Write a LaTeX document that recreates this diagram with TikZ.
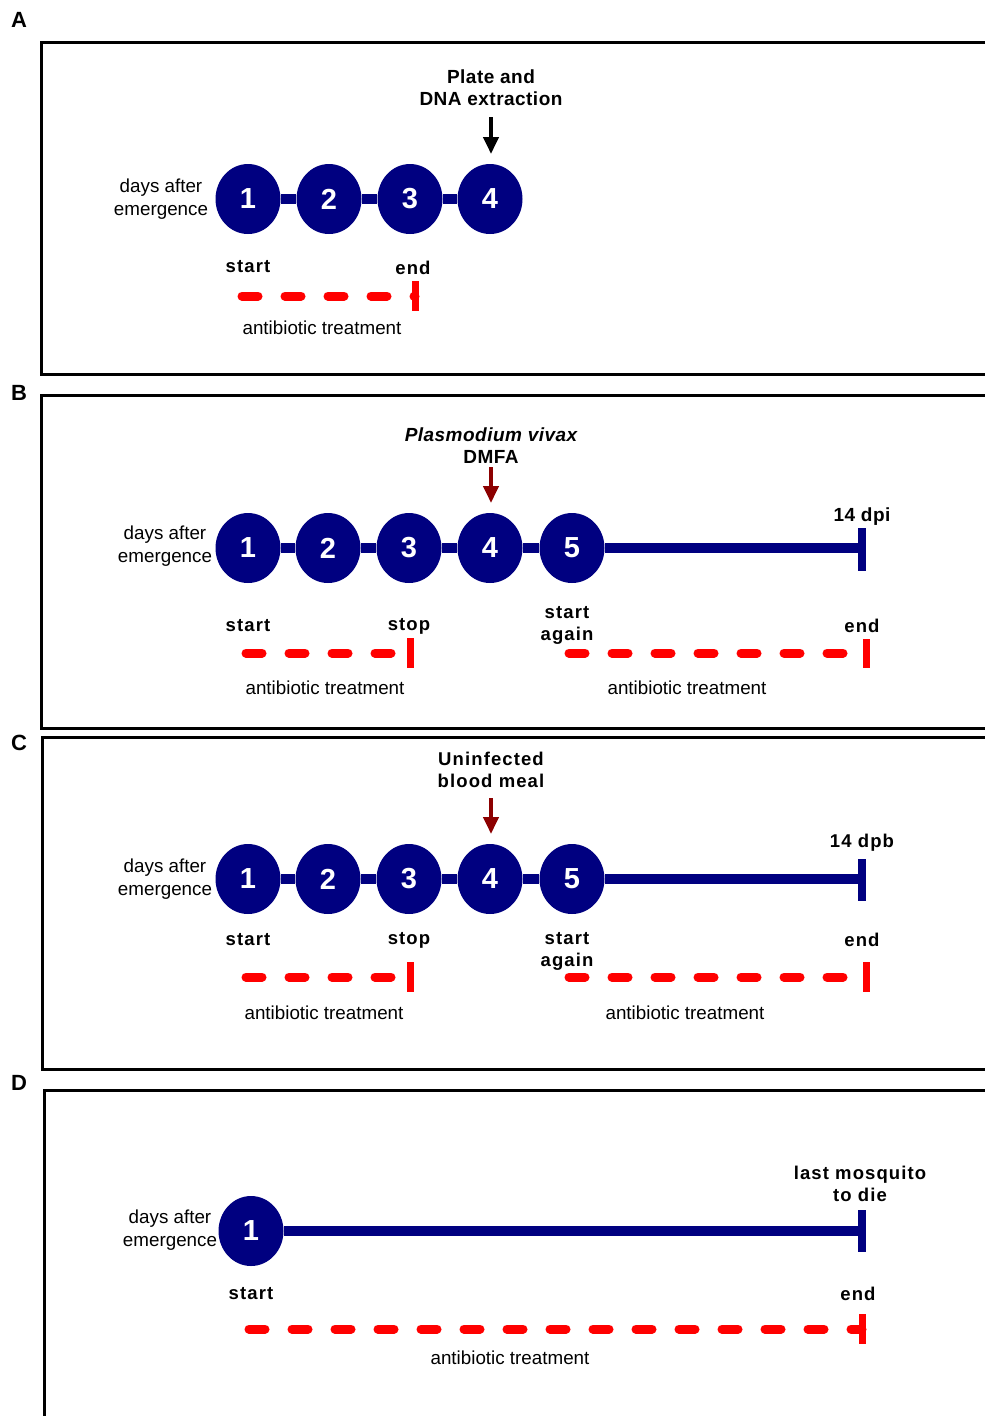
\documentclass[tikz,border=0pt]{standalone}
\usepackage{fontspec}
\setmainfont{Liberation Sans}
\usetikzlibrary{arrows.meta,shapes.geometric}
\definecolor{navy}{RGB}{0,0,128}
\definecolor{dred}{RGB}{140,0,0}
\definecolor{tred}{RGB}{255,0,0}
\tikzset{
 day/.style={ellipse, fill=navy, minimum width=65pt, minimum height=70pt, inner sep=0pt, text=white, font=\fontsize{29}{30}\selectfont\bfseries},
 link/.style={navy, line width=10pt},
 endbar/.style={navy, line width=8pt},
 treat/.style={tred, line width=9pt, dash pattern=on 16pt off 27pt, line cap=round},
 tbar/.style={tred, line width=7pt},
 panel/.style={line width=3pt},
 lbl/.style={font=\fontsize{18.8}{23}\selectfont, align=center, inner sep=0pt},
 blbl/.style={font=\fontsize{18.5}{22}\selectfont\bfseries\addfontfeatures{LetterSpace=6}, align=center, inner sep=0pt},
 plbl/.style={font=\fontsize{19}{22}\selectfont\bfseries\addfontfeatures{LetterSpace=2.5}, align=center, inner sep=0pt},
 plab/.style={font=\fontsize{22}{24}\selectfont\bfseries, inner sep=0pt},
 karrow/.style={line width=4pt, -{Triangle[width=15pt,length=17pt]}},
 rarrow/.style={dred, line width=4pt, -{Triangle[width=15pt,length=17pt]}},
}
\begin{document}
\begin{tikzpicture}[x=1pt,y=-1pt]
\useasboundingbox (0,0) rectangle (985,1416);
\fill[white] (0,0) rectangle (985,1416);

% ---------------- Panel A ----------------
\node[plab] (labA) at (19,20) {A};
\draw[panel] (990,42) -- (41,42) -- (41,374) -- (990,374);
\node[lbl] (adays) at (161,199) {days after\\emergence};
\node[day] (a1) at (248,199) {1};
\node[day] (a2) at (329,199) {2};
\node[day] (a3) at (410,199) {3};
\node[day] (a4) at (490,199) {4};
\draw[link] (a1) -- (a2);
\draw[link] (a2) -- (a3);
\draw[link] (a3) -- (a4);
\node[plbl] (aplate) at (491,88) {Plate and\\DNA extraction};
\coordinate (aArS) at (491,117);
\coordinate (aArE) at (491,154);
\draw[karrow] (aArS) -- (aArE);
\node[blbl] (astart) at (248,267) {start};
\node[blbl] (aend) at (413,268) {end};
\coordinate (aTs) at (242,296);
\coordinate (aTe) at (415,296);
\draw[treat] (aTs) -- (aTe);
\coordinate (aBt) at (415,281);
\coordinate (aBb) at (415,311);
\draw[tbar] (aBt) -- (aBb);
\node[lbl] (atreat) at (322,328) {antibiotic treatment};

% ---------------- Panel B ----------------
\node[plab] (labB) at (19,393) {B};
\draw[panel] (990,395) -- (41,395) -- (41,728) -- (990,728);
\node[lbl] (bdays) at (165,546) {days after\\emergence};
\node[day] (b1) at (248,548) {1};
\node[day] (b2) at (328,548) {2};
\node[day] (b3) at (409,548) {3};
\node[day] (b4) at (490,548) {4};
\node[day] (b5) at (572,548) {5};
\coordinate (bEnd) at (862,548);
\draw[link] (b1) -- (b2);
\draw[link] (b2) -- (b3);
\draw[link] (b3) -- (b4);
\draw[link] (b4) -- (b5);
\draw[link] (b5) -- (bEnd);
\coordinate (bEt) at (862,528);
\coordinate (bEb) at (862,571);
\draw[endbar] (bEt) -- (bEb);
\node[plbl] (bdpi) at (862,517) {14 dpi};
\node[plbl] (bplas) at (491,446) {\itshape Plasmodium vivax\\DMFA};
\coordinate (bArS) at (491,467);
\coordinate (bArE) at (491,503);
\draw[rarrow] (bArS) -- (bArE);
\node[blbl] (bstart) at (248,626) {start};
\node[blbl] (bstop) at (409,626) {stop};
\node[blbl] (bagain) at (567,625) {start\\again};
\node[blbl] (bend) at (862,626) {end};
\coordinate (bT1s) at (246,653);
\coordinate (bT1e) at (410,653);
\draw[treat] (bT1s) -- (bT1e);
\coordinate (bB1t) at (410,638);
\coordinate (bB1b) at (410,668);
\draw[tbar] (bB1t) -- (bB1b);
\coordinate (bT2s) at (569,653);
\coordinate (bT2e) at (866,653);
\draw[treat] (bT2s) -- (bT2e);
\coordinate (bB2t) at (866,639);
\coordinate (bB2b) at (866,668);
\draw[tbar] (bB2t) -- (bB2b);
\node[lbl] (btreat1) at (325,688) {antibiotic treatment};
\node[lbl] (btreat2) at (687,688) {antibiotic treatment};

% ---------------- Panel C ----------------
\node[plab] (labC) at (19,743) {C};
\draw[panel] (990,737) -- (42,737) -- (42,1069) -- (990,1069);
\node[lbl] (cdays) at (165,879) {days after\\emergence};
\node[day] (c1) at (248,879) {1};
\node[day] (c2) at (328,879) {2};
\node[day] (c3) at (409,879) {3};
\node[day] (c4) at (490,879) {4};
\node[day] (c5) at (572,879) {5};
\coordinate (cEnd) at (862,879);
\draw[link] (c1) -- (c2);
\draw[link] (c2) -- (c3);
\draw[link] (c3) -- (c4);
\draw[link] (c4) -- (c5);
\draw[link] (c5) -- (cEnd);
\coordinate (cEt) at (862,859);
\coordinate (cEb) at (862,901);
\draw[endbar] (cEt) -- (cEb);
\node[blbl] (cdpb) at (862,843) {14 dpb};
\node[blbl] (cmeal) at (491,770) {Uninfected\\blood meal};
\coordinate (cArS) at (491,798);
\coordinate (cArE) at (491,834);
\draw[rarrow] (cArS) -- (cArE);
\node[blbl] (cstart) at (248,940) {start};
\node[blbl] (cstop) at (409,940) {stop};
\node[blbl] (cagain) at (567,951) {start\\again};
\node[blbl] (cend) at (862,940) {end};
\coordinate (cT1s) at (246,977);
\coordinate (cT1e) at (410,977);
\draw[treat] (cT1s) -- (cT1e);
\coordinate (cB1t) at (410,962);
\coordinate (cB1b) at (410,992);
\draw[tbar] (cB1t) -- (cB1b);
\coordinate (cT2s) at (569,977);
\coordinate (cT2e) at (866,977);
\draw[treat] (cT2s) -- (cT2e);
\coordinate (cB2t) at (866,962);
\coordinate (cB2b) at (866,992);
\draw[tbar] (cB2t) -- (cB2b);
\node[lbl] (ctreat1) at (324,1013) {antibiotic treatment};
\node[lbl] (ctreat2) at (685,1013) {antibiotic treatment};

% ---------------- Panel D ----------------
\node[plab] (labD) at (19,1083) {D};
\draw[panel] (990,1090) -- (44,1090) -- (44,1420);
\node[lbl] (ddays) at (170,1230) {days after\\emergence};
\node[day] (d1) at (251,1231) {1};
\coordinate (dEnd) at (862,1231);
\draw[link] (d1) -- (dEnd);
\coordinate (dEt) at (862,1210);
\coordinate (dEb) at (862,1252);
\draw[endbar] (dEt) -- (dEb);
\node[blbl] (dlast) at (860,1184) {last mosquito\\to die};
\node[blbl] (dstart) at (251,1294) {start};
\node[blbl] (dend) at (858,1294) {end};
\coordinate (dTs) at (249,1329);
\coordinate (dTe) at (862,1329);
\draw[treat] (dTs) -- (dTe);
\coordinate (dBt) at (862,1314);
\coordinate (dBb) at (862,1344);
\draw[tbar] (dBt) -- (dBb);
\node[lbl] (dtreat) at (510,1358) {antibiotic treatment};
\end{tikzpicture}
\end{document}
